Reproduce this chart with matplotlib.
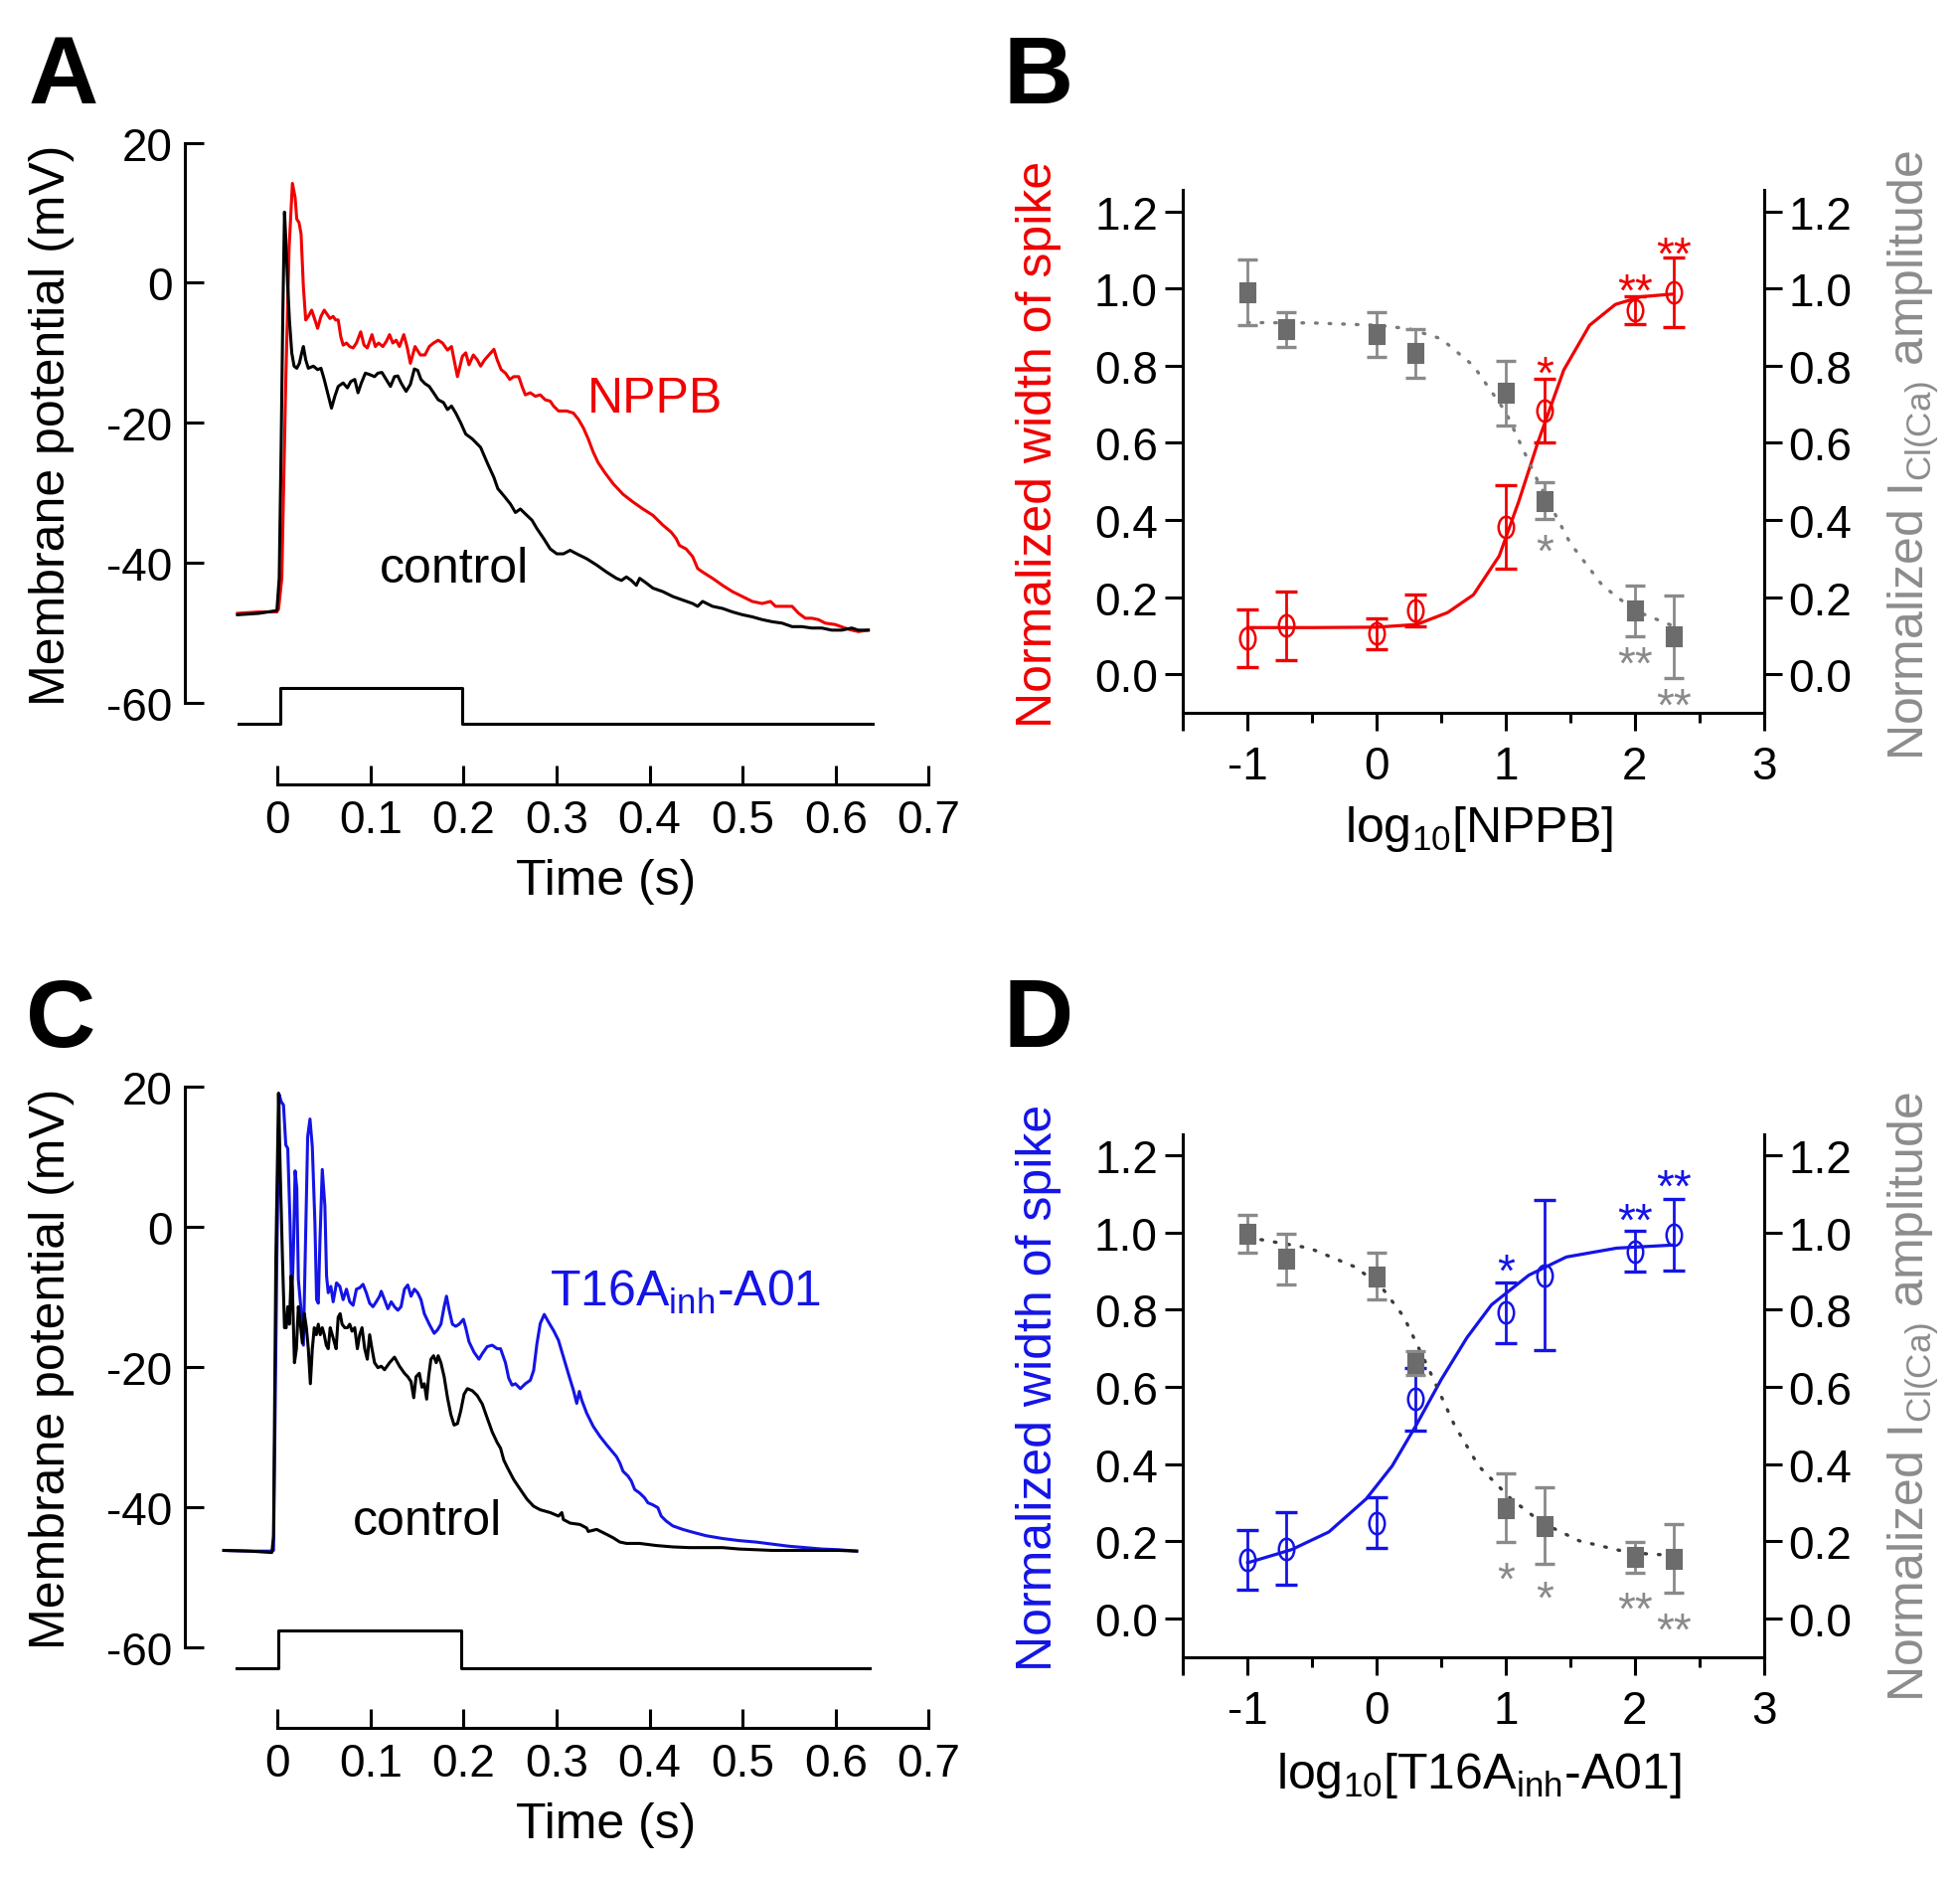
import numpy as np
import matplotlib
matplotlib.use("Agg")
import matplotlib.pyplot as plt
from matplotlib.path import Path
from matplotlib.transforms import offset_copy

plt.rcParams['font.family'] = ['Liberation Sans', 'DejaVu Sans']
plt.rcParams['mathtext.fontset'] = 'custom'
plt.rcParams['mathtext.rm'] = 'Liberation Sans'
plt.rcParams['mathtext.it'] = 'Liberation Sans:italic'
plt.rcParams['axes.unicode_minus'] = False

W, H = 1972, 1890
RED = '#f00000'
BLUE = '#1414e6'
GRAY = '#6c6c6c'
LGRAY = '#8a8a8a'
TICK_FS = 33
LABEL_FS = 36
STAR_FS = 33
LETTER_FS = 70

# ---------------- data: membrane potential traces (time s, mV) ----------------
a_nppb_trace = [
    (-0.043, -47.2), (-0.02, -47.0), (-0.0007, -47.0), (0.0011, -46.6), (0.0046, -42.2), (0.0089, -13.8),
    (0.0125, 5.1), (0.016, 14.2), (0.0189, 12.2), (0.0207, 9.1), (0.0231, 8.6), (0.0253, 7.0),
    (0.0278, -0.6), (0.0303, -5.3), (0.0331, -4.8), (0.0367, -3.9), (0.0402, -5.3), (0.0431, -6.5),
    (0.0467, -4.8), (0.0502, -3.9), (0.0538, -4.6), (0.0563, -5.1), (0.0598, -4.8), (0.0623, -5.3),
    (0.0652, -5.3), (0.068, -7.7), (0.0705, -8.9), (0.0741, -8.6), (0.0776, -9.1), (0.0812, -9.3),
    (0.0848, -8.6), (0.0894, -7.0), (0.093, -8.9), (0.0965, -9.3), (0.1015, -7.4), (0.1051, -9.1),
    (0.1086, -8.6), (0.1132, -9.1), (0.1168, -8.4), (0.1204, -7.4), (0.1239, -8.6), (0.1275, -8.2),
    (0.1311, -9.1), (0.1357, -7.4), (0.1392, -9.1), (0.1428, -11.5), (0.1478, -9.1), (0.1535, -10.3),
    (0.1585, -10.3), (0.1631, -9.1), (0.1677, -8.6), (0.1727, -8.2), (0.1774, -8.6), (0.1827, -9.6),
    (0.187, -9.1), (0.1898, -11.0), (0.1934, -13.4), (0.1987, -10.5), (0.2023, -10.0), (0.2058, -11.7),
    (0.2105, -10.3), (0.2147, -11.0), (0.2183, -11.9), (0.2226, -11.0), (0.2272, -10.3), (0.2326, -9.5),
    (0.2361, -11.0), (0.2404, -12.4), (0.245, -12.9), (0.2496, -13.8), (0.2539, -13.4), (0.2593, -13.4),
    (0.2628, -14.8), (0.2664, -16.0), (0.2717, -15.7), (0.2771, -16.2), (0.2824, -16.0), (0.2877, -16.7),
    (0.2931, -16.9), (0.2967, -17.6), (0.302, -18.3), (0.3109, -18.3), (0.318, -18.6), (0.3234, -19.5),
    (0.3287, -20.7), (0.334, -22.3), (0.3394, -24.2), (0.3447, -25.7), (0.3518, -27.1), (0.3608, -28.7),
    (0.3714, -30.2), (0.3821, -31.3), (0.3928, -32.3), (0.4035, -33.2), (0.4142, -34.6), (0.4231, -35.6),
    (0.4284, -36.5), (0.432, -37.5), (0.4391, -38.0), (0.4462, -39.1), (0.4516, -40.8), (0.4569, -41.3),
    (0.4676, -42.2), (0.4783, -43.2), (0.489, -44.1), (0.4997, -44.8), (0.5103, -45.5), (0.521, -45.8),
    (0.5299, -45.5), (0.5353, -46.2), (0.5424, -46.2), (0.5531, -46.2), (0.5602, -47.2), (0.5673, -47.9),
    (0.5744, -47.9), (0.5815, -48.1), (0.5887, -48.6), (0.5994, -48.8), (0.61, -49.3), (0.6172, -49.6),
    (0.6243, -49.8), (0.635, -49.6),
]

a_ctrl_trace = [
    (-0.043, -47.4), (-0.02, -47.2), (-0.0007, -46.8), (0.0018, -42.2), (0.0039, -23.3), (0.0057, -4.4),
    (0.0075, 10.1), (0.0093, 5.1), (0.011, -0.6), (0.0128, -5.3), (0.0153, -10.0), (0.0178, -11.9),
    (0.0207, -12.2), (0.0235, -11.5), (0.026, -10.0), (0.0278, -9.1), (0.0303, -11.0), (0.0331, -12.2),
    (0.0385, -11.9), (0.0431, -12.4), (0.0467, -12.2), (0.0502, -13.8), (0.0538, -15.7), (0.058, -17.9),
    (0.0616, -16.2), (0.0652, -14.8), (0.0705, -14.3), (0.0751, -15.0), (0.0787, -14.1), (0.083, -13.8),
    (0.0865, -15.7), (0.0901, -14.3), (0.0944, -12.9), (0.099, -13.1), (0.1043, -13.4), (0.1079, -12.9),
    (0.1122, -12.8), (0.1168, -13.8), (0.1214, -14.8), (0.1257, -13.4), (0.1293, -13.3), (0.1328, -14.3),
    (0.1382, -15.5), (0.1428, -14.5), (0.1471, -12.3), (0.1506, -12.5), (0.1542, -13.8), (0.1585, -14.4),
    (0.1631, -14.8), (0.1677, -15.7), (0.1727, -16.7), (0.1784, -17.1), (0.1827, -18.1), (0.187, -17.6),
    (0.1916, -18.6), (0.1969, -20.0), (0.2023, -21.6), (0.2094, -22.3), (0.2183, -23.5), (0.2254, -25.7),
    (0.2326, -27.8), (0.2368, -29.4), (0.2432, -30.4), (0.2504, -31.6), (0.2557, -32.8), (0.261, -32.3),
    (0.2664, -33.0), (0.2735, -33.9), (0.2788, -35.1), (0.286, -36.5), (0.2931, -38.0), (0.3002, -38.7),
    (0.3073, -38.7), (0.3145, -38.2), (0.3216, -38.7), (0.3323, -39.4), (0.343, -40.3), (0.3536, -41.3),
    (0.3643, -42.2), (0.3697, -42.5), (0.375, -42.0), (0.3803, -42.5), (0.3857, -43.2), (0.3892, -42.2),
    (0.3946, -42.7), (0.4035, -43.6), (0.4142, -44.1), (0.4249, -44.8), (0.4355, -45.3), (0.4462, -45.8),
    (0.4516, -46.2), (0.4569, -45.5), (0.4676, -46.2), (0.4783, -46.5), (0.489, -47.0), (0.4997, -47.4),
    (0.5103, -47.7), (0.521, -48.1), (0.5317, -48.4), (0.5424, -48.6), (0.5531, -49.1), (0.5637, -49.1),
    (0.5744, -49.3), (0.5851, -49.3), (0.5958, -49.6), (0.6065, -49.6), (0.6172, -49.3), (0.6243, -49.6),
    (0.635, -49.6),
]

c_t16a_trace = [
    (-0.0577, -46.2), (-0.03, -46.3), (-0.0061, -46.3), (-0.0043, -46.2), (-0.0007, -4.5), (0.0018, 18.9),
    (0.0039, 17.9), (0.0064, 17.4), (0.0089, 11.7), (0.011, 11.2), (0.0135, 0.5), (0.0153, -10.4),
    (0.0171, -3.5), (0.0189, 8.0), (0.0207, 5.5), (0.0224, -7.5), (0.0253, -11.9), (0.0278, -16.9),
    (0.0303, -1.0), (0.0324, 12.9), (0.0349, 15.4), (0.0374, 11.4), (0.0402, 0.5), (0.042, -10.4),
    (0.0438, -10.9), (0.0456, -2.0), (0.0481, 8.2), (0.0509, 3.0), (0.0527, -7.0), (0.0545, -9.4),
    (0.0573, -8.5), (0.0598, -10.7), (0.0634, -8.0), (0.067, -8.5), (0.0705, -10.4), (0.0741, -8.9),
    (0.0776, -10.7), (0.0812, -11.2), (0.0848, -8.9), (0.0883, -8.7), (0.0919, -8.2), (0.0954, -9.4),
    (0.099, -10.9), (0.1026, -11.4), (0.1061, -10.7), (0.1097, -9.9), (0.1115, -9.2), (0.115, -10.4),
    (0.1186, -11.7), (0.1222, -10.7), (0.1257, -11.4), (0.1293, -11.9), (0.1328, -11.4), (0.1364, -8.9),
    (0.14, -8.3), (0.1435, -9.9), (0.1471, -8.9), (0.1506, -9.4), (0.1542, -10.4), (0.1578, -12.4),
    (0.1631, -13.9), (0.1684, -15.2), (0.172, -14.7), (0.1756, -13.9), (0.1791, -11.4), (0.1816, -9.9),
    (0.1845, -11.9), (0.188, -13.9), (0.1916, -14.2), (0.1952, -13.9), (0.1998, -13.2), (0.2023, -14.4),
    (0.2058, -16.4), (0.2112, -17.9), (0.2165, -18.9), (0.2201, -18.1), (0.2254, -17.1), (0.2308, -16.9),
    (0.2361, -17.4), (0.2397, -17.4), (0.245, -19.4), (0.2485, -21.6), (0.2521, -22.6), (0.2557, -22.4),
    (0.261, -23.1), (0.2664, -22.4), (0.2717, -21.9), (0.2753, -20.5), (0.2788, -16.7), (0.2824, -13.8),
    (0.2867, -12.5), (0.2913, -13.6), (0.2967, -14.8), (0.302, -16.2), (0.3073, -18.6), (0.3127, -21.0),
    (0.318, -23.3), (0.3216, -25.2), (0.3244, -23.5), (0.3269, -24.7), (0.3323, -26.6), (0.3394, -28.5),
    (0.3465, -29.9), (0.3536, -31.1), (0.3643, -32.8), (0.3679, -33.7), (0.3714, -34.9), (0.3768, -35.6),
    (0.3803, -36.3), (0.3839, -37.5), (0.3892, -38.0), (0.3946, -38.7), (0.3981, -39.4), (0.4035, -39.7),
    (0.4088, -40.1), (0.4124, -41.3), (0.4177, -42.0), (0.4249, -42.7), (0.4355, -43.2), (0.4462, -43.6),
    (0.4605, -44.1), (0.4783, -44.5), (0.4961, -44.8), (0.5139, -45.0), (0.5317, -45.3), (0.5495, -45.6),
    (0.5673, -45.8), (0.5851, -46.0), (0.6029, -46.1), (0.6225, -46.3),
]

c_ctrl_trace = [
    (-0.0577, -46.2), (-0.03, -46.3), (-0.0061, -46.5), (-0.0043, -44.2), (-0.0018, -4.5), (0.0011, 19.1),
    (0.0029, 8.0), (0.0053, -4.5), (0.0075, -14.4), (0.0093, -14.4), (0.011, -11.4), (0.0128, -13.9),
    (0.0146, -7.0), (0.016, -8.9), (0.0182, -19.4), (0.0203, -17.4), (0.0224, -11.4), (0.0246, -13.9),
    (0.0267, -16.6), (0.0288, -12.4), (0.031, -14.4), (0.0331, -17.4), (0.0353, -22.4), (0.0374, -17.4),
    (0.0395, -14.4), (0.0417, -15.4), (0.0438, -13.9), (0.0459, -15.4), (0.0481, -14.4), (0.0502, -15.4),
    (0.0524, -16.9), (0.0545, -17.4), (0.0566, -14.4), (0.0588, -15.4), (0.0609, -16.4), (0.063, -17.4),
    (0.0652, -12.9), (0.0673, -12.4), (0.0694, -13.9), (0.0723, -14.4), (0.0751, -14.4), (0.0776, -13.9),
    (0.0801, -14.9), (0.083, -14.4), (0.0858, -17.4), (0.0883, -15.4), (0.0908, -14.4), (0.0937, -17.4),
    (0.0965, -18.9), (0.099, -15.4), (0.1015, -17.4), (0.1043, -19.4), (0.1079, -20.1), (0.1115, -19.9),
    (0.115, -20.4), (0.1204, -19.4), (0.1257, -18.6), (0.1311, -19.9), (0.1364, -20.9), (0.14, -21.4),
    (0.1435, -22.1), (0.1464, -24.4), (0.1489, -21.4), (0.1524, -20.9), (0.1553, -22.9), (0.1578, -22.4),
    (0.1603, -24.6), (0.1624, -21.4), (0.1649, -18.9), (0.1677, -18.4), (0.1706, -19.4), (0.1727, -18.4),
    (0.1756, -19.4), (0.1791, -21.4), (0.1827, -24.4), (0.1863, -26.8), (0.1898, -28.3), (0.1934, -28.1),
    (0.1969, -26.3), (0.2005, -23.9), (0.2041, -23.1), (0.2094, -23.4), (0.2147, -24.1), (0.2201, -25.3),
    (0.2254, -27.3), (0.2308, -29.3), (0.2361, -30.8), (0.2397, -31.6), (0.2432, -33.3), (0.2468, -34.3),
    (0.2539, -36.1), (0.261, -37.5), (0.2682, -38.9), (0.2753, -39.9), (0.2824, -40.4), (0.2931, -40.8),
    (0.302, -41.3), (0.3056, -40.8), (0.3073, -41.8), (0.3145, -42.3), (0.3251, -42.5), (0.3323, -43.0),
    (0.334, -43.5), (0.343, -43.2), (0.3536, -43.9), (0.3608, -44.4), (0.3679, -45.0), (0.375, -45.2),
    (0.3892, -45.2), (0.407, -45.5), (0.4249, -45.7), (0.4427, -45.8), (0.4605, -45.8), (0.4783, -45.8),
    (0.4961, -46.0), (0.5139, -46.1), (0.5317, -46.2), (0.5495, -46.2), (0.5673, -46.2), (0.5851, -46.2),
    (0.6029, -46.2), (0.6225, -46.3),
]

# stimulus step drawn under the traces
a_stim_t = [-0.042, 0.003, 0.003, 0.198, 0.198, 0.64]
a_stim_v = [-63.0, -63.0, -57.8, -57.8, -63.0, -63.0]
c_stim_t = [-0.044, 0.001, 0.001, 0.197, 0.197, 0.637]
c_stim_v = [-63.0, -63.0, -57.6, -57.6, -63.0, -63.0]

time_ticks = [0, 0.1, 0.2, 0.3, 0.4, 0.5, 0.6, 0.7]
time_labels = ['0', '0.1', '0.2', '0.3', '0.4', '0.5', '0.6', '0.7']
mv_ticks = [-60, -40, -20, 0, 20]

# ---------------- data: dose response ----------------
log_conc = [-1, -0.7, 0, 0.3, 1, 1.3, 2, 2.3]

b_width = [0.093, 0.126, 0.106, 0.165, 0.382, 0.683, 0.944, 0.990]
b_width_err = [0.074, 0.089, 0.040, 0.041, 0.109, 0.083, 0.037, 0.090]
b_icl = [0.990, 0.894, 0.882, 0.832, 0.729, 0.450, 0.165, 0.098]
b_icl_err = [0.085, 0.045, 0.058, 0.064, 0.084, 0.047, 0.066, 0.107]
b_width_fit_x = [-1, -0.5, 0, 0.31, 0.55, 0.75, 0.95, 1.1, 1.25, 1.45, 1.65, 1.85, 2.05, 2.3]
b_width_fit_y = [0.121, 0.121, 0.122, 0.129, 0.160, 0.206, 0.307, 0.447, 0.602, 0.789, 0.905, 0.959, 0.979, 0.986]
b_icl_fit_x = [-1, -0.5, 0, 0.25, 0.5, 0.75, 1.0, 1.25, 1.5, 1.75, 2.0, 2.3]
b_icl_fit_y = [0.912, 0.911, 0.905, 0.896, 0.870, 0.800, 0.680, 0.500, 0.340, 0.230, 0.165, 0.125]
b_width_stars = [(1.3, 0.81, '*'), (2.0, 1.025, '**'), (2.3, 1.12, '**')]
b_icl_stars = [(1.3, 0.350, '*'), (2.0, 0.059, '**'), (2.3, -0.050, '**')]

d_width = [0.152, 0.181, 0.248, 0.568, 0.793, 0.890, 0.952, 0.995]
d_width_err = [0.078, 0.094, 0.066, 0.080, 0.079, 0.195, 0.053, 0.093]
d_icl = [0.997, 0.932, 0.887, 0.661, 0.286, 0.240, 0.159, 0.155]
d_icl_err = [0.048, 0.066, 0.060, 0.031, 0.089, 0.100, 0.040, 0.089]
d_width_fit_x = [-1, -0.66, -0.37, -0.08, 0.12, 0.31, 0.5, 0.7, 0.89, 1.18, 1.47, 1.86, 2.3]
d_width_fit_y = [0.144, 0.178, 0.224, 0.310, 0.395, 0.503, 0.619, 0.728, 0.813, 0.890, 0.937, 0.960, 0.968]
d_icl_fit_x = [-1, -0.52, -0.18, 0.02, 0.21, 0.41, 0.6, 0.79, 1.04, 1.28, 1.57, 1.96, 2.3]
d_icl_fit_y = [0.988, 0.960, 0.913, 0.867, 0.782, 0.642, 0.503, 0.395, 0.310, 0.248, 0.201, 0.170, 0.163]
d_width_stars = [(1.0, 0.932, '*'), (2.0, 1.063, '**'), (2.3, 1.150, '**')]
d_icl_stars = [(1.0, 0.132, '*'), (1.3, 0.082, '*'), (2.0, 0.054, '**'), (2.3, 0.0, '**')]

norm_ticks = [0.0, 0.2, 0.4, 0.6, 0.8, 1.0, 1.2]
norm_labels = ['0.0', '0.2', '0.4', '0.6', '0.8', '1.0', '1.2']
log_major = [-1.5, -1, 0, 1, 2, 3]
log_major_labels = ['', '-1', '0', '1', '2', '3']
log_minor = [-0.5, 0.5, 1.5, 2.5]


def box(x0, y0, x1, y1):
    # pixel box (top-left origin) -> figure fraction rect
    return [x0 / W, 1 - y1 / H, (x1 - x0) / W, (y1 - y0) / H]


def ftext(x, y, s, **kw):
    fig.text(x / W, 1 - y / H, s, **kw)


ell = Path.unit_circle()
ellipse_marker = Path(ell.vertices * [0.72, 1.0], ell.codes)
rect_marker = Path([(-0.39, -0.5), (0.39, -0.5), (0.39, 0.5), (-0.39, 0.5), (-0.39, -0.5)],
                   [Path.MOVETO, Path.LINETO, Path.LINETO, Path.LINETO, Path.CLOSEPOLY])

fig = plt.figure(figsize=(W / 100, H / 100), dpi=100)


def trace_panel(rect, traces, stim_t, stim_v):
    ax = fig.add_axes(rect)
    for tr, col in traces:
        t, v = np.array(tr).T
        ax.plot(t, v, color=col, lw=2.2, solid_joinstyle='round')
    ax.plot(stim_t, stim_v, color='black', lw=2.2)
    ax.set_xlim(-0.0995, 0.71)
    ax.set_ylim(-71.6, 22.0)
    for s in ['top', 'right']:
        ax.spines[s].set_visible(False)
    ax.spines['left'].set_bounds(-60, 20)
    ax.spines['bottom'].set_bounds(0, 0.7)
    for s in ['left', 'bottom']:
        ax.spines[s].set_linewidth(2.2)
    ax.set_xticks(time_ticks)
    ax.set_xticklabels(time_labels)
    ax.set_yticks(mv_ticks)
    ax.set_yticklabels([str(v) for v in mv_ticks])
    ax.tick_params(axis='both', direction='in', length=14, width=2.2, labelsize=TICK_FS)
    ax.tick_params(axis='y', pad=9)
    ax.tick_params(axis='x', pad=10)
    return ax


# ---------------- panel A ----------------
axA = trace_panel(box(186.1, 130.5, 943.8, 789.8), [(a_nppb_trace, RED), (a_ctrl_trace, 'black')],
                  a_stim_t, a_stim_v)
axA.text(0.333, -18.4, 'NPPB', color=RED, fontsize=LABEL_FS)
axA.text(0.110, -42.7, 'control', color='black', fontsize=LABEL_FS)

# ---------------- panel C ----------------
axC = trace_panel(box(186.1, 1080.1, 943.8, 1739.4), [(c_t16a_trace, BLUE), (c_ctrl_trace, 'black')],
                  c_stim_t, c_stim_v)
axC.text(0.2925, -11.2, r'T16A$_{\mathrm{inh}}$-A01', color=BLUE, fontsize=LABEL_FS)
axC.text(0.0807, -43.9, 'control', color='black', fontsize=LABEL_FS)

for yc in [427.6, 1377.0]:
    ftext(51.6, yc, 'Membrane potential (mV)', rotation=90, ha='center', va='center', fontsize=LABEL_FS)
for yc in [886.7, 1836.3]:
    ftext(610, yc, 'Time (s)', ha='center', va='center', fontsize=LABEL_FS)


def dose_panel(rect, col, width, width_err, fit_x, fit_y, icl, icl_err, icl_fit_x, icl_fit_y,
               icl_dot_col, width_stars, icl_stars):
    ax = fig.add_axes(rect)
    ax.plot(fit_x, fit_y, color=col, lw=2.3)
    ax.errorbar(log_conc, width, yerr=width_err, fmt='none', ecolor=col, elinewidth=2.0,
                capsize=8, capthick=2.4)
    ax.plot(log_conc, width, linestyle='none', marker=ellipse_marker, markersize=15.5,
            markerfacecolor='none', markeredgecolor=col, markeredgewidth=1.8)
    ax2 = ax.twinx()
    ax2.plot(icl_fit_x, icl_fit_y, color=icl_dot_col, lw=2.4, linestyle=(0, (0.5, 3.6)),
             dash_capstyle='round')
    ax2.errorbar(log_conc, icl, yerr=icl_err, fmt='none', ecolor=LGRAY, elinewidth=2.0,
                 capsize=7, capthick=2.4)
    ax2.plot(log_conc, icl, linestyle='none', marker=rect_marker, markersize=14,
             markerfacecolor=GRAY, markeredgecolor=GRAY, markeredgewidth=0.8)
    for a in (ax, ax2):
        a.set_xlim(-1.504, 3.0)
        a.set_ylim(-0.1003, 1.255)
        a.spines['top'].set_visible(False)
        for s in ['left', 'right', 'bottom']:
            a.spines[s].set_linewidth(2.2)
        a.set_yticks(norm_ticks)
        a.set_yticklabels(norm_labels)
        a.tick_params(axis='y', direction='out', length=13, width=2.2, labelsize=TICK_FS, pad=5)
    ax.spines['right'].set_visible(False)
    ax2.spines['left'].set_visible(False)
    ax2.spines['bottom'].set_visible(False)
    ax.set_xticks(log_major)
    ax.set_xticklabels(log_major_labels)
    ax.set_xticks(log_minor, minor=True)
    ax.tick_params(axis='x', which='major', direction='out', length=13, width=2.2,
                   labelsize=TICK_FS, pad=10)
    ax.tick_params(axis='x', which='minor', direction='out', length=7, width=2.2)
    # put the centre of the asterisk glyph on the given value
    off = offset_copy(ax.transData, fig=fig, x=0, y=-0.57 * STAR_FS * 100 / 72, units='dots')
    for x, y, s in width_stars:
        ax.text(x, y, s, color=col, fontsize=STAR_FS, ha='center', va='baseline', transform=off)
    for x, y, s in icl_stars:
        ax.text(x, y, s, color=LGRAY, fontsize=STAR_FS, ha='center', va='baseline', transform=off)
    return ax, ax2


# ---------------- panel B ----------------
dose_panel(box(1189.8, 192.4, 1774.6, 718.1), RED, b_width, b_width_err, b_width_fit_x, b_width_fit_y,
           b_icl, b_icl_err, b_icl_fit_x, b_icl_fit_y, '#7a7a7a', b_width_stars, b_icl_stars)
ftext(1045, 446.5, 'Normalized width of spike', rotation=90, ha='center', va='center',
      fontsize=LABEL_FS, color=RED)
ftext(1925.5, 457.8, r'Normalized I$_{\mathrm{Cl(Ca)}}$ amplitude', rotation=90, ha='center', va='center',
      fontsize=LABEL_FS, color='#8c8c8c')
ftext(1487.9, 833.9, r'log$_{\mathrm{10}}$[NPPB]', ha='center', va='center', fontsize=LABEL_FS)

# ---------------- panel D ----------------
dose_panel(box(1189.8, 1142.0, 1774.6, 1667.7), BLUE, d_width, d_width_err, d_width_fit_x, d_width_fit_y,
           d_icl, d_icl_err, d_icl_fit_x, d_icl_fit_y, '#3c3c3c', d_width_stars, d_icl_stars)
ftext(1045, 1396.0, 'Normalized width of spike', rotation=90, ha='center', va='center',
      fontsize=LABEL_FS, color=BLUE)
ftext(1925.5, 1405.0, r'Normalized I$_{\mathrm{Cl(Ca)}}$ amplitude', rotation=90, ha='center', va='center',
      fontsize=LABEL_FS, color='#8c8c8c')
ftext(1487.9, 1786.0, r'log$_{\mathrm{10}}$[T16A$_{\mathrm{inh}}$-A01]', ha='center', va='center',
      fontsize=LABEL_FS)

# panel letters
for letter, x, y in [('A', 29, 104), ('B', 1010, 104), ('C', 26, 1053), ('D', 1010, 1053)]:
    ftext(x, y, letter, fontsize=LETTER_FS, fontweight='bold', va='baseline', ha='left')

fig.savefig('out.png', dpi=100)
